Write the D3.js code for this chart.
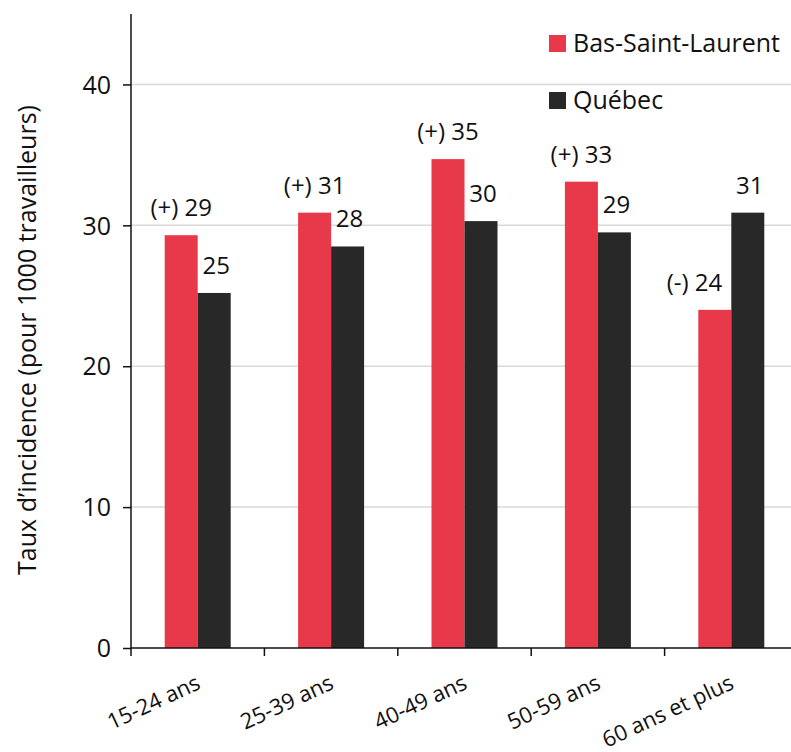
<!DOCTYPE html>
<html>
<head>
<meta charset="utf-8">
<script src="https://cdn.jsdelivr.net/npm/d3@7"></script>
<style>
  body { margin: 0; background: #fff; }
  svg text { font-family: "Open Sans", "Noto Sans", sans-serif; fill: #111; }
</style>
</head>
<body>
<div id="chart"></div>
<script>
const categories = ["15-24 ans", "25-39 ans", "40-49 ans", "50-59 ans", "60 ans et plus"];
const seriesNames = ["Bas-Saint-Laurent", "Québec"];
const basStLaurent = [29.3, 30.9, 34.7, 33.1, 24.0];
const quebec       = [25.2, 28.5, 30.3, 29.5, 30.9];
const bslLabels    = ["(+) 29", "(+) 31", "(+) 35", "(+) 33", "(-) 24"];
const qcLabels     = ["25", "28", "30", "29", "31"];
const yTicks       = [0, 10, 20, 30, 40];

const COLORS = ["#e8394b", "#282828"];

const W = 791, H = 752;
const MARGIN = { top: 14, right: -7, bottom: 104, left: 131 };

const svg = d3.select("#chart").append("svg")
  .attr("width", W).attr("height", H);

const x = d3.scaleBand()
  .domain(categories)
  .range([MARGIN.left, W - MARGIN.right]);

const y = d3.scaleLinear()
  .domain([0, 45])
  .range([H - MARGIN.bottom, MARGIN.top]);

const barW = 33;

// grid lines
svg.selectAll(".grid")
  .data(yTicks.filter(d => d > 0))
  .enter().append("line")
  .attr("x1", MARGIN.left).attr("x2", W)
  .attr("y1", d => y(d)).attr("y2", d => y(d))
  .attr("stroke", "#d9d9d9").attr("stroke-width", 1.5);

// bars + value labels
const rows = [basStLaurent, quebec];
const labels = [bslLabels, qcLabels];
rows.forEach((vals, s) => {
  const bx = (i) => x(categories[i]) + x.bandwidth() / 2 - barW + s * barW;
  svg.selectAll(".bar" + s)
    .data(vals)
    .enter().append("rect")
    .attr("x", (d, i) => bx(i))
    .attr("y", d => y(d))
    .attr("width", barW)
    .attr("height", d => y(0) - y(d))
    .attr("fill", COLORS[s]);

  // red label shifts left when the dark bar next to it is taller
  const shifted = (i) => s === 0 && quebec[i] > basStLaurent[i] + 2;
  svg.selectAll(".lab" + s)
    .data(vals)
    .enter().append("text")
    .attr("x", (d, i) => shifted(i) ? bx(i) + barW - 9 : bx(i) + barW / 2 + (s === 1 ? 2 : 0))
    .attr("y", d => y(d) - 19)
    .attr("text-anchor", (d, i) => shifted(i) ? "end" : "middle")
    .attr("font-size", 24)
    .text((d, i) => labels[s][i]);
});

// y axis
const yAxis = svg.append("g")
  .attr("transform", `translate(${MARGIN.left},0)`)
  .call(d3.axisLeft(y).tickValues(yTicks).tickSize(8).tickPadding(12).tickSizeOuter(0));
yAxis.select(".domain").attr("stroke", "#111").attr("stroke-width", 1.5)
  .attr("d", `M0,${y(45)}V${y(0)}`);
yAxis.selectAll(".tick line").attr("stroke", "#111").attr("stroke-width", 1.5);
yAxis.selectAll(".tick text").attr("font-size", 25).attr("dy", "0.35em")
  .style("font-family", '"Open Sans", sans-serif').attr("fill", "#111");

// x axis line
const xAxis = svg.append("g")
  .attr("transform", `translate(0,${y(0)})`)
  .call(d3.axisBottom(x).tickSize(0).tickFormat(""));
xAxis.select(".domain").attr("stroke", "#111").attr("stroke-width", 1.5)
  .attr("d", `M${MARGIN.left},0H${W}`);
xAxis.selectAll(".tick").remove();

// tick marks between categories
svg.selectAll(".xt")
  .data(categories)
  .enter().append("line")
  .attr("x1", d => x(d)).attr("x2", d => x(d))
  .attr("y1", y(0)).attr("y2", y(0) + 8)
  .attr("stroke", "#111").attr("stroke-width", 1.5);

// x labels
svg.selectAll(".xl")
  .data(categories)
  .enter().append("text")
  .attr("text-anchor", "end")
  .attr("font-size", 22)
  .attr("transform", d => `translate(${x(d) + x.bandwidth() / 2 + 4},${y(0) + 40}) rotate(-25)`)
  .text(d => d);

// y title
svg.append("text")
  .attr("transform", `translate(36,340) rotate(-90)`)
  .attr("text-anchor", "middle")
  .attr("font-size", 25)
  .text("Taux d’incidence (pour 1000 travailleurs)");

// legend
const legend = svg.selectAll(".leg")
  .data(seriesNames)
  .enter().append("g")
  .attr("transform", (d, i) => `translate(549,${35 + i * 57})`);
legend.append("rect")
  .attr("width", 17).attr("height", 17)
  .attr("fill", (d, i) => COLORS[i]);
legend.append("text")
  .attr("x", 24).attr("y", 17)
  .attr("font-size", 25)
  .text(d => d);
</script>
</body>
</html>
